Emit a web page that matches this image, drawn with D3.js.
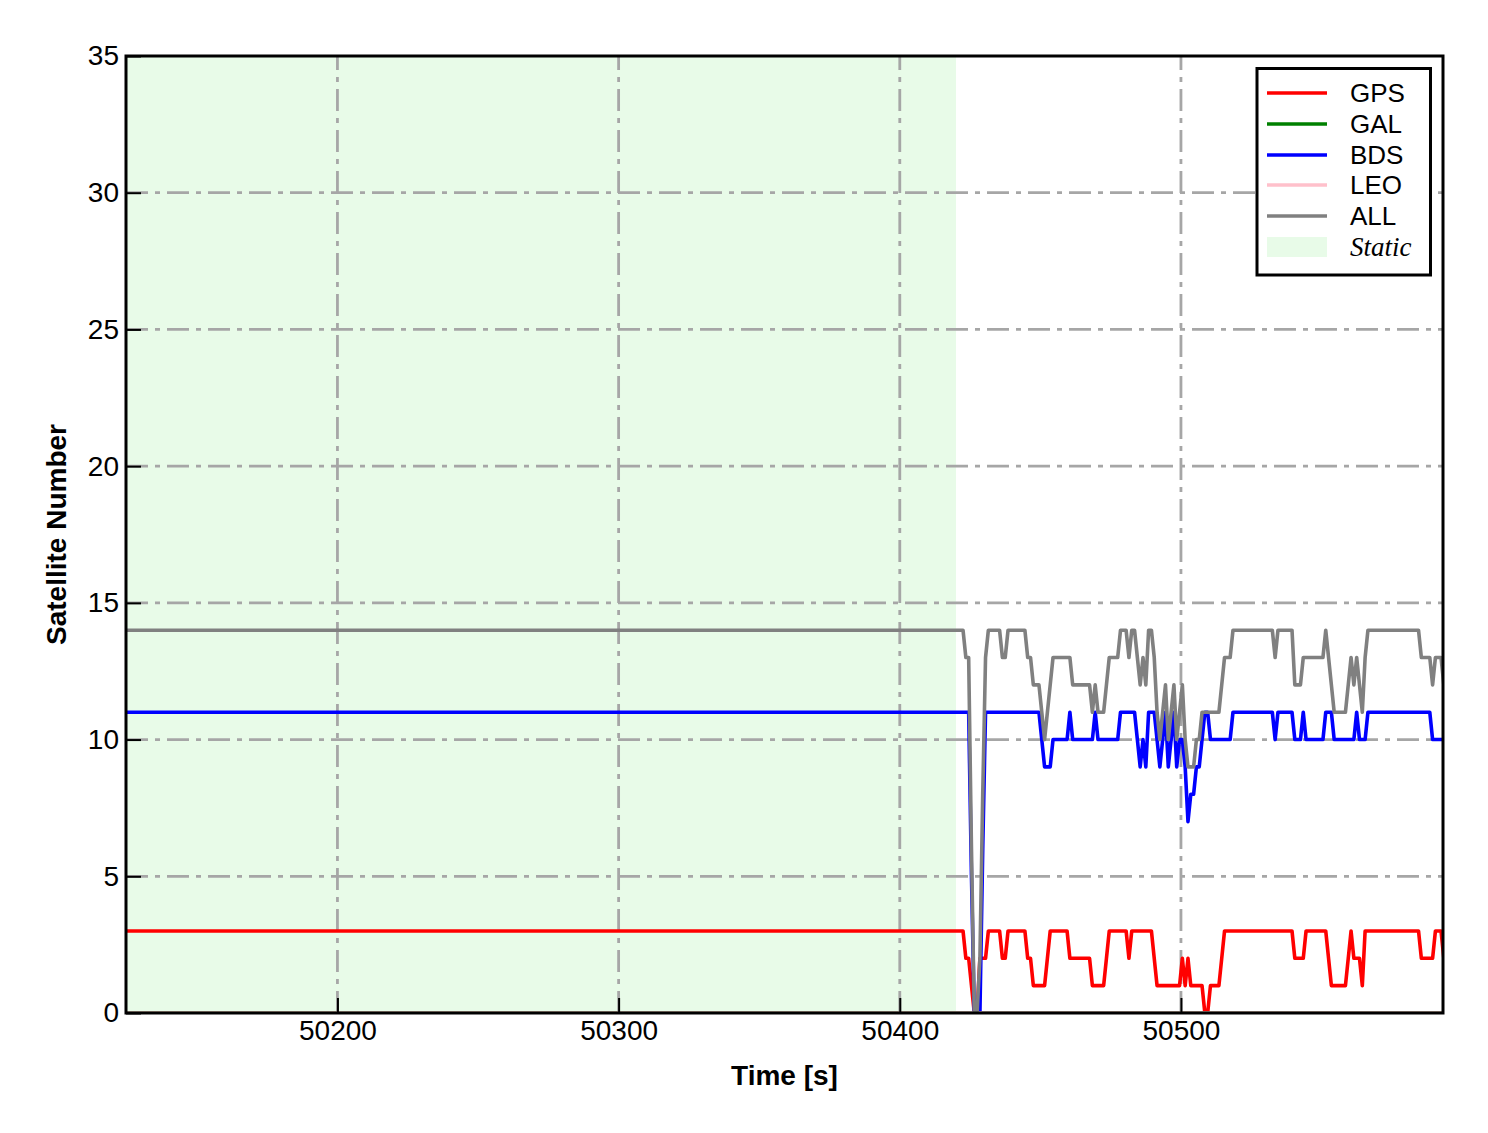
<!DOCTYPE html>
<html>
<head>
<meta charset="utf-8">
<script src="https://cdn.jsdelivr.net/npm/d3@7"></script>
<style>
  body { margin: 0; background: #ffffff; }
  svg { display: block; }
</style>
</head>
<body>
<svg id="chart" width="1488" height="1133"></svg>
<script>
// ---------------- DATA ----------------
const xDomain = [50124.8, 50593.2];
const yDomain = [0, 35];
const xTicks = [50200, 50300, 50400, 50500];
const yTicks = [0, 5, 10, 15, 20, 25, 30, 35];
const staticSpan = [50124.8, 50420.0];

// epochs: first point = start of record (static, constant), then 1 Hz epochs
const time = [50124.8,
  50422.5,50423.5,50424.5,50425.5,50426.5,50427.5,50428.5,50429.5,50430.5,50431.5,
  50432.5,50433.5,50434.5,50435.5,50436.5,50437.5,50438.5,50439.5,50440.5,50441.5,
  50442.5,50443.5,50444.5,50445.5,50446.5,50447.5,50448.5,50449.5,50450.5,50451.5,
  50452.5,50453.5,50454.5,50455.5,50456.5,50457.5,50458.5,50459.5,50460.5,50461.5,
  50462.5,50463.5,50464.5,50465.5,50466.5,50467.5,50468.5,50469.5,50470.5,50471.5,
  50472.5,50473.5,50474.5,50475.5,50476.5,50477.5,50478.5,50479.5,50480.5,50481.5,
  50482.5,50483.5,50484.5,50485.5,50486.5,50487.5,50488.5,50489.5,50490.5,50491.5,
  50492.5,50493.5,50494.5,50495.5,50496.5,50497.5,50498.5,50499.5,50500.5,50501.5,
  50502.5,50503.5,50504.5,50505.5,50506.5,50507.5,50508.5,50509.5,50510.5,50511.5,
  50512.5,50513.5,50514.5,50515.5,50516.5,50517.5,50518.5,50519.5,50520.5,50521.5,
  50522.5,50523.5,50524.5,50525.5,50526.5,50527.5,50528.5,50529.5,50530.5,50531.5,
  50532.5,50533.5,50534.5,50535.5,50536.5,50537.5,50538.5,50539.5,50540.5,50541.5,
  50542.5,50543.5,50544.5,50545.5,50546.5,50547.5,50548.5,50549.5,50550.5,50551.5,
  50552.5,50553.5,50554.5,50555.5,50556.5,50557.5,50558.5,50559.5,50560.5,50561.5,
  50562.5,50563.5,50564.5,50565.5,50566.5,50567.5,50568.5,50569.5,50570.5,50571.5,
  50572.5,50573.5,50574.5,50575.5,50576.5,50577.5,50578.5,50579.5,50580.5,50581.5,
  50582.5,50583.5,50584.5,50585.5,50586.5,50587.5,50588.5,50589.5,50590.5,50591.5,
  50592.5,50593.5];

const gpsCount = [3,
  3,2,2,1,0,0,2,2,2,3,
  3,3,3,3,2,2,3,3,3,3,
  3,3,3,2,2,1,1,1,1,1,
  2,3,3,3,3,3,3,3,2,2,
  2,2,2,2,2,2,1,1,1,1,
  1,2,3,3,3,3,3,3,3,2,
  3,3,3,3,3,3,3,3,2,1,
  1,1,1,1,1,1,1,1,2,1,
  2,1,1,1,1,1,0,0,1,1,
  1,1,2,3,3,3,3,3,3,3,
  3,3,3,3,3,3,3,3,3,3,
  3,3,3,3,3,3,3,3,2,2,
  2,2,3,3,3,3,3,3,3,3,
  2,1,1,1,1,1,1,2,3,2,
  2,2,1,3,3,3,3,3,3,3,
  3,3,3,3,3,3,3,3,3,3,
  3,3,3,2,2,2,2,2,3,3,
  3,2];

const bdsCount = [11,
  11,11,11,5,0,0,0,6,11,11,
  11,11,11,11,11,11,11,11,11,11,
  11,11,11,11,11,11,11,11,10,9,
  9,9,10,10,10,10,10,10,11,10,
  10,10,10,10,10,10,10,11,10,10,
  10,10,10,10,10,10,11,11,11,11,
  11,11,10,9,10,9,11,11,11,10,
  9,10,11,9,10,11,9,10,10,9,
  7,8,8,9,9,10,11,11,10,10,
  10,10,10,10,10,10,11,11,11,11,
  11,11,11,11,11,11,11,11,11,11,
  11,10,11,11,11,11,11,11,10,10,
  10,11,10,10,10,10,10,10,10,11,
  11,11,10,10,10,10,10,10,10,10,
  11,10,10,10,11,11,11,11,11,11,
  11,11,11,11,11,11,11,11,11,11,
  11,11,11,11,11,11,11,10,10,10,
  10,10];

const allCount = [14,
  14,13,13,6,0,0,2,8,13,14,
  14,14,14,14,13,13,14,14,14,14,
  14,14,14,13,13,12,12,12,11,10,
  11,12,13,13,13,13,13,13,13,12,
  12,12,12,12,12,12,11,12,11,11,
  11,12,13,13,13,13,14,14,14,13,
  14,14,13,12,13,12,14,14,13,11,
  10,11,12,10,11,12,10,11,12,10,
  9,9,9,10,10,11,11,11,11,11,
  11,11,12,13,13,13,14,14,14,14,
  14,14,14,14,14,14,14,14,14,14,
  14,13,14,14,14,14,14,14,12,12,
  12,13,13,13,13,13,13,13,13,14,
  13,12,11,11,11,11,11,12,13,12,
  13,12,11,13,14,14,14,14,14,14,
  14,14,14,14,14,14,14,14,14,14,
  14,14,14,13,13,13,13,12,13,13,
  13,12];

// GAL and LEO: no satellites over the whole record
const galTime = [50124.8, 50593.5];
const galCount = [0, 0];
const leoTime = [50124.8, 50593.5];
const leoCount = [0, 0];

const seriesNames = ["GPS", "GAL", "BDS", "LEO", "ALL"];
const seriesColors = ["#ff0000", "#008000", "#0000ff", "#ffc0cb", "#808080"];
const staticLabel = "Static";

// ---------------- CHART ----------------
const L = 126, T = 56, R = 1443, B = 1013;
const svg = d3.select("#chart");
const x = d3.scaleLinear().domain(xDomain).range([L, R]);
const y = d3.scaleLinear().domain(yDomain).range([B, T]);

svg.append("rect").attr("width", 1488).attr("height", 1133).attr("fill", "#ffffff");

svg.append("defs").append("clipPath").attr("id", "plotclip")
  .append("rect").attr("x", L).attr("y", T).attr("width", R - L).attr("height", B - T);

// static shading
svg.append("rect")
  .attr("x", x(staticSpan[0])).attr("y", y(yDomain[1]))
  .attr("width", x(staticSpan[1]) - x(staticSpan[0]))
  .attr("height", y(yDomain[0]) - y(yDomain[1]))
  .attr("fill", "#e8fbe8");

// grid
const grid = svg.append("g")
  .attr("stroke", "#a6a6a6").attr("stroke-width", 2.8)
  .attr("stroke-dasharray", "22,7,5,7").attr("fill", "none");
xTicks.forEach(t => grid.append("line")
  .attr("x1", x(t)).attr("x2", x(t)).attr("y1", y(yDomain[0])).attr("y2", y(yDomain[1])));
yTicks.filter(v => v > yDomain[0] && v < yDomain[1]).forEach(v => grid.append("line")
  .attr("x1", L).attr("x2", R).attr("y1", y(v)).attr("y2", y(v)));

// series
const series = [
  { name: seriesNames[0], color: seriesColors[0], t: time, v: gpsCount },
  { name: seriesNames[1], color: seriesColors[1], t: galTime, v: galCount },
  { name: seriesNames[2], color: seriesColors[2], t: time, v: bdsCount },
  { name: seriesNames[3], color: seriesColors[3], t: leoTime, v: leoCount },
  { name: seriesNames[4], color: seriesColors[4], t: time, v: allCount }
];
const line = d3.line().x(d => x(d[0])).y(d => y(d[1]));
const lines = svg.append("g").attr("clip-path", "url(#plotclip)");
series.forEach(s => {
  lines.append("path")
    .datum(s.t.map((t, i) => [t, s.v[i]]))
    .attr("d", line)
    .attr("fill", "none")
    .attr("stroke", s.color)
    .attr("stroke-width", 3.6)
    .attr("stroke-linejoin", "round");
});

// axes
const fontSans = "'Liberation Sans', Arial, Helvetica, sans-serif";
const xAxis = d3.axisBottom(x).tickValues(xTicks).tickSizeInner(-15).tickSizeOuter(0)
  .tickPadding(7).tickFormat(d3.format("d"));
const yAxis = d3.axisLeft(y).tickValues(yTicks).tickSizeInner(-15).tickSizeOuter(0)
  .tickPadding(7).tickFormat(d3.format("d"));

const gx = svg.append("g").attr("transform", `translate(0,${B})`).call(xAxis);
const gy = svg.append("g").attr("transform", `translate(${L},0)`).call(yAxis);
[gx, gy].forEach(g => {
  g.select(".domain").remove();
  g.selectAll(".tick line").attr("stroke", "#000").attr("stroke-width", 2);
  g.selectAll(".tick text").attr("fill", "#000")
    .style("font-family", fontSans).style("font-size", "28px");
});

// frame
svg.append("rect").attr("x", L).attr("y", T).attr("width", R - L).attr("height", B - T)
  .attr("fill", "none").attr("stroke", "#000").attr("stroke-width", 3);

// axis titles
svg.append("text").attr("x", (L + R) / 2).attr("y", 1085)
  .attr("text-anchor", "middle")
  .style("font-family", fontSans).style("font-size", "28px").style("font-weight", "bold")
  .text("Time [s]");
svg.append("text")
  .attr("transform", `translate(66,${(T + B) / 2}) rotate(-90)`)
  .attr("text-anchor", "middle")
  .style("font-family", fontSans).style("font-size", "28px").style("font-weight", "bold")
  .text("Satellite Number");

// legend
const lg = svg.append("g");
lg.append("rect").attr("x", 1257).attr("y", 68.5).attr("width", 173.5).attr("height", 206.5)
  .attr("fill", "#fff").attr("stroke", "#000").attr("stroke-width", 3);
const rowY = [93, 124, 155, 185, 216, 247];
series.forEach((s, i) => {
  lg.append("line").attr("x1", 1267).attr("x2", 1327).attr("y1", rowY[i]).attr("y2", rowY[i])
    .attr("stroke", s.color).attr("stroke-width", 3.6);
  lg.append("text").attr("x", 1350).attr("y", rowY[i]).attr("dy", "0.36em")
    .style("font-family", fontSans).style("font-size", "26px").text(s.name);
});
lg.append("rect").attr("x", 1267).attr("y", rowY[5] - 10).attr("width", 60).attr("height", 20)
  .attr("fill", "#e8fbe8");
lg.append("text").attr("x", 1350).attr("y", rowY[5]).attr("dy", "0.34em")
  .style("font-family", "'Liberation Serif', 'Times New Roman', serif")
  .style("font-style", "italic").style("font-size", "27px").text(staticLabel);
</script>
</body>
</html>
